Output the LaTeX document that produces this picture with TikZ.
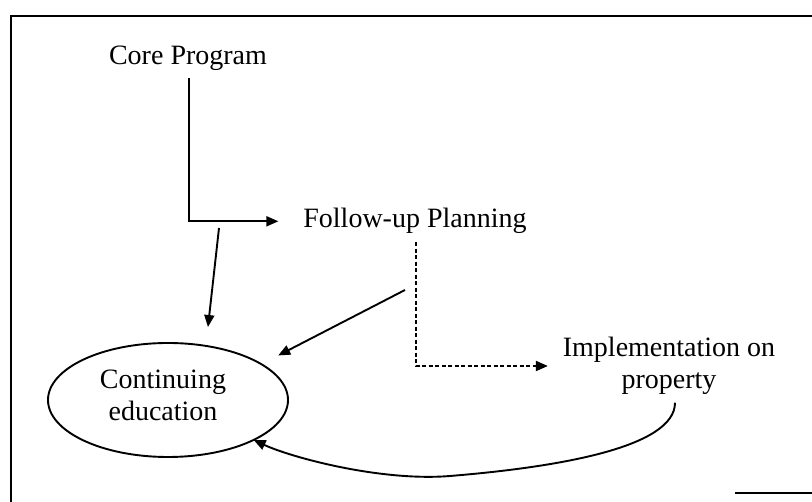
\documentclass[tikz,border=0pt]{standalone}
\usepackage{fontspec}
\setmainfont{Liberation Serif}
\usetikzlibrary{arrows.meta,shapes.geometric}

\tikzset{
  label text/.style={font=\fontsize{28}{32}\selectfont, inner sep=0pt, outer sep=0pt},
  conn/.style={line width=1.9pt, -{Triangle[length=12pt,width=10pt]}},
  dashconn/.style={conn, dash pattern=on 4pt off 2.5pt},
  frame line/.style={line width=2.4pt},
}

\begin{document}
\begin{tikzpicture}[x=1pt,y=1pt]
  \useasboundingbox (0,0) rectangle (812,502);
  \fill[white] (0,0) rectangle (812,502);

  % open frame: top and left edges, short piece at the bottom right
  \draw[frame line] (11,0) -- (11,486) -- (812,486);
  \draw[line width=1.4pt] (735,9) -- (812,9);

  % stages
  \node[label text, anchor=base] (core) at (188,437) {Core Program};
  \node[label text, anchor=base] (follow) at (415,274) {Follow-up Planning};
  \node[label text, align=center] (impl) at (669,136) {Implementation on\\property};
  \node[ellipse, draw, line width=1.9pt, minimum width=240pt, minimum height=114pt,
        inner sep=0pt, outer sep=0pt] (cont) at (168,102) {};
  \node[label text, align=center] (conttext) at (163,107) {Continuing\\education};

  % free ends of the two straight arrows into the ellipse
  \coordinate (core-branch) at (219,274);
  \coordinate (follow-out) at (405,212);

  % connectors
  \draw[conn, shorten <=7pt, shorten >=25pt] ([xshift=1pt]core.south) |- (follow.west);
  \draw[dashconn, shorten <=8pt, shorten >=15pt] ([xshift=1pt]follow.south) |- (impl.west);
  \draw[conn, shorten >=19pt] (core-branch) -- (cont.55);
  \draw[conn, shorten >=19pt] (follow-out) -- (cont.21);
  \draw[conn, shorten <=8pt] ([xshift=6pt]impl.south)
       .. controls (675,55) and (560,35) .. (450,26)
       .. controls (380,20.3) and (290,45) .. (cont.335);
\end{tikzpicture}
\end{document}
